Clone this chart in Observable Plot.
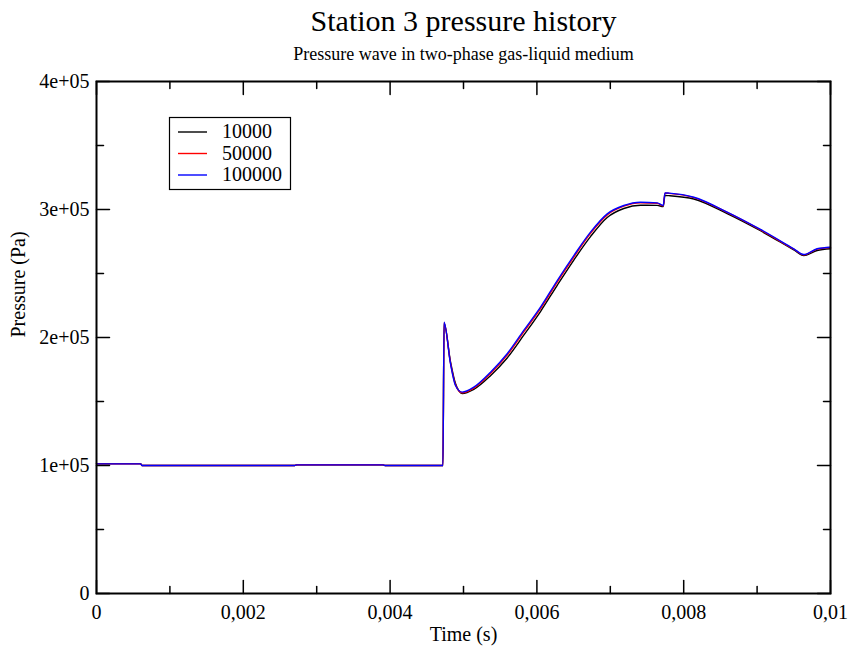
<!DOCTYPE html>
<html>
<head>
<meta charset="utf-8">
<script src="https://cdn.jsdelivr.net/npm/d3@7"></script>
<script src="https://cdn.jsdelivr.net/npm/@observablehq/plot@0.6"></script>
<style>
  html, body { margin: 0; padding: 0; background: #fff; }
  #chart { position: relative; width: 848px; height: 646px; }
  #chart svg text { font-family: "Liberation Serif", "Times New Roman", serif; }
</style>
</head>
<body>
<div id="chart"></div>
<script>
const titleText = "Station 3 pressure history";
const subtitleText = "Pressure wave in two-phase gas-liquid medium";
const xLabel = "Time (s)";
const yLabel = "Pressure (Pa)";

const seriesNames = ["10000", "50000", "100000"];
const seriesColors = ["#000000", "#ff0000", "#0000ff"];

const times = [0, 0.0006, 0.00062, 0.0027, 0.00273, 0.0039, 0.00393, 0.00472, 0.004735, 0.004823, 0.004891, 0.004982, 0.00514, 0.005368, 0.005595, 0.005821, 0.006049, 0.006277, 0.006503, 0.00673, 0.006958, 0.007184, 0.007411, 0.007639, 0.007721, 0.007745, 0.0078, 0.008138, 0.008592, 0.009046, 0.0095, 0.009636, 0.009818, 0.01];

const p10000 = [101500, 101500, 100000, 100000, 100500, 100500, 100000, 100000, 211000, 181000, 164000, 156300, 159500, 170200, 184000, 201800, 220300, 240800, 260500, 278800, 293800, 300800, 303300, 303200, 302300, 311000, 310800, 308200, 296800, 283400, 268400, 264000, 268000, 269300];
const p50000 = [101300, 101300, 100000, 100000, 100600, 100600, 100000, 100000, 211500, 180000, 163000, 156800, 160500, 171900, 186200, 204400, 222600, 243300, 262800, 281300, 295800, 302600, 305300, 304900, 302800, 312800, 312600, 309300, 297700, 284100, 269000, 264600, 269000, 270300];
const p100000 = [101300, 101300, 100000, 100000, 100500, 100500, 100000, 100000, 212000, 179500, 162500, 157300, 161200, 172900, 187300, 205500, 223700, 244500, 264000, 282300, 296600, 303100, 305700, 305200, 303100, 313000, 312800, 309600, 298000, 284400, 269300, 264800, 269300, 270500];

const xTicks = [0, 0.002, 0.004, 0.006, 0.008, 0.01];
const xTickLabels = ["0", "0,002", "0,004", "0,006", "0,008", "0,01"];
const xMinorTicks = [0.001, 0.003, 0.005, 0.007, 0.009];
const yTicks = [0, 100000, 200000, 300000, 400000];
const yTickLabels = ["0", "1e+05", "2e+05", "3e+05", "4e+05"];
const yMinorTicks = [50000, 150000, 250000, 350000];

const seriesValues = [p10000, p50000, p100000];
const rows = [];
seriesNames.forEach((name, s) => {
  times.forEach((t, i) => rows.push({t, p: seriesValues[s][i], series: name}));
});

const font = "Liberation Serif";
const major = 13, minor = 7;
const tickShape = {draw(context, l) { context.moveTo(0, 0); context.lineTo(0, -l); }};

// inward tick helpers: rotate = direction the tick points (0 = up)
const xTicksAt = (values, len, anchor, rotate) =>
  Plot.vector(values, {x: d => d, frameAnchor: anchor, length: len, rotate, anchor: "start", shape: tickShape, stroke: "#000", strokeWidth: 1.5});
const yTicksAt = (values, len, anchor, rotate) =>
  Plot.vector(values, {y: d => d, frameAnchor: anchor, length: len, rotate, anchor: "start", shape: tickShape, stroke: "#000", strokeWidth: 1.5});

const plot = Plot.plot({
  width: 848,
  height: 646,
  marginLeft: 96,
  marginRight: 18,
  marginTop: 81,
  marginBottom: 53,
  style: {fontFamily: font, fontSize: "20px", background: "#fff", color: "#000"},
  x: {domain: [0, 0.01], axis: null},
  y: {domain: [0, 400000], axis: null},
  color: {domain: seriesNames, range: seriesColors},
  marks: [
    Plot.line(rows, {x: "t", y: "p", z: "series", stroke: "series", strokeWidth: 1.4, curve: "monotone-x"}),
    Plot.frame({stroke: "#000", strokeWidth: 2}),
    xTicksAt(xTicks, major, "bottom", 0),
    xTicksAt(xTicks, major, "top", 180),
    xTicksAt(xMinorTicks, minor, "bottom", 0),
    xTicksAt(xMinorTicks, minor, "top", 180),
    yTicksAt(yTicks, major, "left", 90),
    yTicksAt(yTicks, major, "right", -90),
    yTicksAt(yMinorTicks, minor, "left", 90),
    yTicksAt(yMinorTicks, minor, "right", -90),
    // tick labels
    Plot.axisX({anchor: "bottom", ticks: xTicks, tickSize: 0, tickPadding: 11, tickFormat: (d, i) => xTickLabels[i], fontSize: 20, fontFamily: font, label: null}),
    Plot.axisY({anchor: "left", ticks: yTicks, tickSize: 0, tickPadding: 7, tickFormat: (d, i) => yTickLabels[i], fontSize: 20, fontFamily: font, label: null}),
    // titles and axis labels
    Plot.text([titleText], {frameAnchor: "top", dy: -60.6, fontSize: 30, fontFamily: font, lineAnchor: "middle"}),
    Plot.text([subtitleText], {frameAnchor: "top", dy: -26.8, fontSize: 18, fontFamily: font, lineAnchor: "middle"}),
    Plot.text([xLabel], {frameAnchor: "bottom", dy: 41, fontSize: 20, fontFamily: font, lineAnchor: "middle"}),
    Plot.text([yLabel], {frameAnchor: "left", dx: -78, rotate: -90, fontSize: 20, fontFamily: font, lineAnchor: "middle"})
  ]
});

document.getElementById("chart").appendChild(plot);

// Legend box
const svg = d3.select(plot);
const lg = svg.append("g").attr("font-family", font).attr("font-size", 20).attr("text-anchor", "start");
lg.append("rect").attr("x", 169.5).attr("y", 117.5).attr("width", 121).attr("height", 72)
  .attr("fill", "#fff").attr("stroke", "#000").attr("stroke-width", 1.2);
const rowY = [132, 153.5, 175];
seriesNames.forEach((name, i) => {
  lg.append("line").attr("x1", 178).attr("x2", 207).attr("y1", rowY[i]).attr("y2", rowY[i])
    .attr("stroke", seriesColors[i]).attr("stroke-width", 1.4);
  lg.append("text").attr("x", 222).attr("y", rowY[i]).attr("dy", "0.32em")
    .attr("fill", "#000").attr("text-anchor", "start").text(name);
});
</script>
</body>
</html>
